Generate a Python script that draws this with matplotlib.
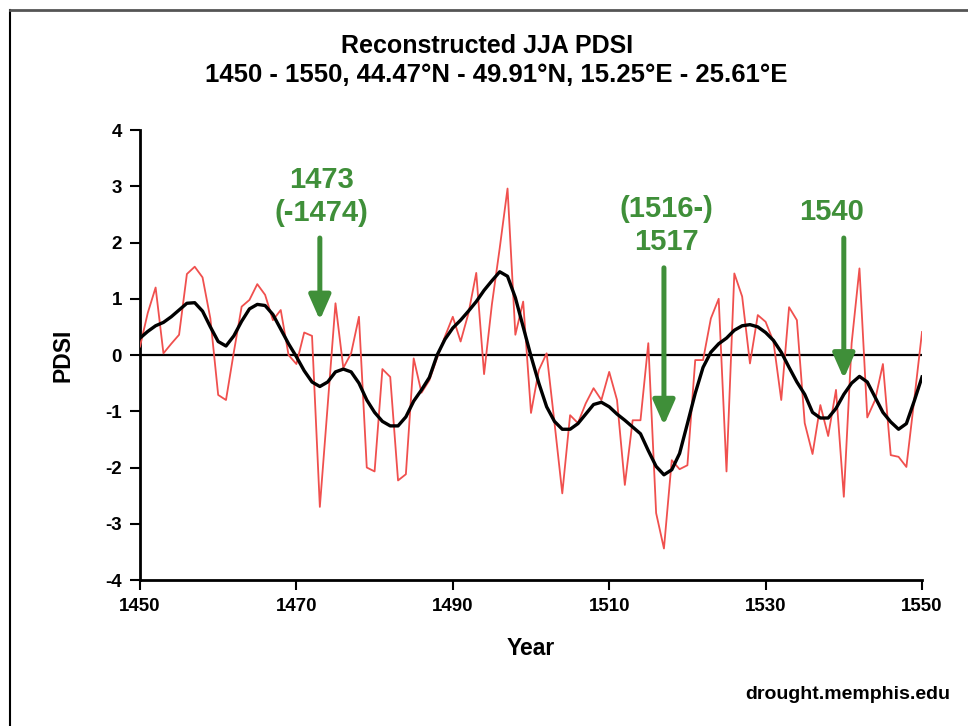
import matplotlib.pyplot as plt
from matplotlib.lines import Line2D

plt.rcParams['font.family'] = ['Liberation Sans', 'DejaVu Sans']
plt.rcParams['axes.unicode_minus'] = False

# Years 1450-1550
years = list(range(1450, 1551))

# Annual reconstructed JJA PDSI (red)
pdsi = [
    0.15, 0.75, 1.20, 0.03, 0.20, 0.36, 1.44, 1.57, 1.38, 0.65,   # 1450-1459
    -0.71, -0.80, 0.05, 0.86, 0.98, 1.26, 1.07, 0.62, 0.80, 0.00,  # 1460-1469
    -0.16, 0.40, 0.34, -2.70, -0.90, 0.92, -0.23, 0.03, 0.68, -2.00,  # 1470-1479
    -2.07, -0.25, -0.39, -2.23, -2.12, -0.06, -0.67, -0.45, -0.05, 0.33,  # 1480-1489
    0.68, 0.24, 0.74, 1.46, -0.34, 0.90, 1.90, 2.96, 0.36, 0.95,   # 1490-1499
    -1.03, -0.27, 0.03, -1.20, -2.46, -1.07, -1.21, -0.86, -0.59, -0.80,  # 1500-1509
    -0.30, -0.80, -2.31, -1.16, -1.16, 0.21, -2.81, -3.44, -1.87, -2.03,  # 1510-1519
    -1.96, -0.09, -0.09, 0.65, 1.00, -2.07, 1.45, 1.04, -0.15, 0.71,  # 1520-1529
    0.59, 0.24, -0.80, 0.85, 0.62, -1.21, -1.76, -0.89, -1.44, -0.62,  # 1530-1539
    -2.52, 0.21, 1.54, -1.11, -0.80, -0.16, -1.78, -1.81, -1.99, -0.80,  # 1540-1549
    0.41,                                                          # 1550
]

# Smoothed curve (black)
smooth = [
    0.30, 0.42, 0.52, 0.58, 0.68, 0.80, 0.92, 0.93, 0.78, 0.50,
    0.24, 0.16, 0.34, 0.60, 0.82, 0.90, 0.88, 0.72, 0.46, 0.20,
    -0.03, -0.28, -0.48, -0.56, -0.48, -0.30, -0.25, -0.30, -0.50, -0.80,
    -1.02, -1.18, -1.26, -1.26, -1.10, -0.82, -0.62, -0.40, 0.00, 0.28,
    0.48, 0.62, 0.78, 0.95, 1.15, 1.32, 1.48, 1.40, 1.02, 0.50,
    -0.02, -0.50, -0.92, -1.18, -1.32, -1.32, -1.22, -1.05, -0.88, -0.84,
    -0.92, -1.05, -1.16, -1.28, -1.40, -1.70, -1.98, -2.13, -2.04, -1.75,
    -1.22, -0.68, -0.22, 0.05, 0.20, 0.30, 0.44, 0.52, 0.54, 0.50,
    0.40, 0.26, 0.05, -0.22, -0.48, -0.70, -1.02, -1.12, -1.12, -0.95,
    -0.70, -0.50, -0.38, -0.48, -0.75, -1.02, -1.19, -1.32, -1.22, -0.82,
    -0.39,
]

# Drought year annotations
ann_labels = ['1473\n(-1474)', '(1516-)\n1517', '1540']
ann_x = [1473, 1517, 1540]
ann_text_x = [1473.2, 1517.3, 1538.4]
ann_text_y = [2.82, 2.30, 2.54]
ann_tail_y = [2.08, 1.55, 2.08]
ann_tip_y = [0.62, -1.25, -0.42]

green = '#3f8f39'
red = '#f0504e'

fig = plt.figure(figsize=(9.68, 7.26), dpi=100)
ax = fig.add_axes([0.1446, 0.2011, 0.8079, 0.6198])

ax.axhline(0, color='black', lw=1.6, zorder=2)
ax.plot(years, pdsi, color=red, lw=1.3, zorder=3)
ax.plot(years, smooth, color='black', lw=2.4, zorder=4)

for lab, x, tx, ty, y0, y1 in zip(ann_labels, ann_x, ann_text_x, ann_text_y,
                                  ann_tail_y, ann_tip_y):
    ax.text(tx, ty, lab, color=green, fontsize=21, fontweight='bold',
            ha='center', va='center', linespacing=1.2, zorder=6)
    ax.annotate('', xy=(x, y1), xytext=(x, y0),
                arrowprops=dict(arrowstyle='-|>,head_length=0.75,head_width=0.33',
                                color=green, lw=3.6, mutation_scale=20,
                                shrinkA=0, shrinkB=0),
                zorder=6)

ax.set_xlim(1450, 1550)
ax.set_ylim(-4, 4)
ax.set_xticks([1450, 1470, 1490, 1510, 1530, 1550])
ax.set_yticks(range(-4, 5))
for s in ['top', 'right']:
    ax.spines[s].set_visible(False)
for s in ['left', 'bottom']:
    ax.spines[s].set_linewidth(2)
ax.tick_params(direction='out', length=7, width=1.5, labelsize=13.5, pad=6)
for t in ax.get_xticklabels() + ax.get_yticklabels():
    t.set_fontweight('bold')

ax.set_xlabel('Year', fontsize=16.5, fontweight='bold', labelpad=16)
ax.set_ylabel('PDSI', fontsize=16.5, fontweight='bold', labelpad=22)

# two-line title, centred on the page
fig.text(0.503, 0.9366, 'Reconstructed JJA PDSI', ha='center', va='center',
         fontsize=18, fontweight='bold')
fig.text(0.513, 0.8967, '1450 - 1550, 44.47°N - 49.91°N, 15.25°E - 25.61°E',
         ha='center', va='center', fontsize=18.5, fontweight='bold')

fig.text(0.982, 0.043, 'drought.memphis.edu', ha='right', va='center',
         fontsize=14, fontweight='bold')

# outer frame
fig.add_artist(Line2D([0.0105, 0.0105], [0, 0.986], transform=fig.transFigure,
                      color='black', lw=1.5))
fig.add_artist(Line2D([0.0105, 1], [0.986, 0.986], transform=fig.transFigure,
                      color='#555555', lw=2))

fig.savefig('out.png', dpi=100)
